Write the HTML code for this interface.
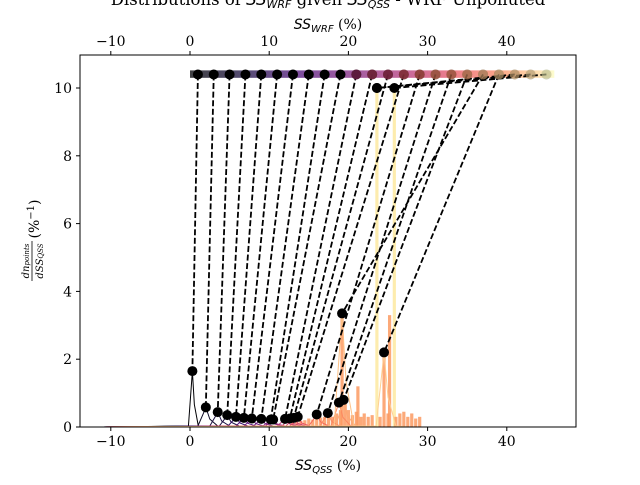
<!DOCTYPE html>
<html><head><meta charset="utf-8"><style>
body{margin:0;background:#fff}
svg text{font-family:"DejaVu Serif","Liberation Serif",serif;fill:#000}
</style></head><body>
<svg id="chart" width="640" height="480" viewBox="0 0 640 480" xmlns="http://www.w3.org/2000/svg">
<text x="328" y="5" font-size="16.5" text-anchor="middle">Distributions of <tspan font-style="italic" font-family="DejaVu Sans">SS</tspan><tspan font-style="italic" font-family="DejaVu Sans" font-size="11" dy="3">WRF</tspan><tspan dy="-3"> given </tspan><tspan font-style="italic" font-family="DejaVu Sans">SS</tspan><tspan font-style="italic" font-family="DejaVu Sans" font-size="11" dy="3">QSS</tspan><tspan dy="-3"> - WRF Unpolluted</tspan></text>
<text x="328" y="29" font-size="14" text-anchor="middle"><tspan font-style="italic" font-family="DejaVu Sans">SS</tspan><tspan font-style="italic" font-family="DejaVu Sans" font-size="10" dy="3">WRF</tspan><tspan dy="-3"> (%)</tspan></text>
<text x="328" y="470" font-size="14" text-anchor="middle"><tspan font-style="italic" font-family="DejaVu Sans">SS</tspan><tspan font-style="italic" font-family="DejaVu Sans" font-size="10" dy="3">QSS</tspan><tspan dy="-3"> (%)</tspan></text>
<g transform="translate(35,241) rotate(-90)">
<text x="-20" y="-6" font-size="10" text-anchor="middle" font-style="italic" font-family="DejaVu Sans">dn<tspan font-size="7">points</tspan></text>
<line x1="-40" y1="-3" x2="0" y2="-3" stroke="#000" stroke-width="0.8"/>
<text x="-20" y="8" font-size="10" text-anchor="middle" font-style="italic" font-family="DejaVu Sans">dSS<tspan font-size="7">QSS</tspan></text>
<text x="22" y="4" font-size="14" text-anchor="middle">(%<tspan font-size="10" dy="-5">−1</tspan><tspan dy="5">)</tspan></text>
</g>
<defs><linearGradient id="magma" x1="0" x2="1" y1="0" y2="0">
<stop offset="0" stop-color="#000004"/><stop offset="0.15" stop-color="#1c1044"/><stop offset="0.3" stop-color="#51127c"/><stop offset="0.45" stop-color="#832681"/><stop offset="0.6" stop-color="#b73779"/><stop offset="0.72" stop-color="#e75263"/><stop offset="0.85" stop-color="#fc8961"/><stop offset="0.95" stop-color="#fecf92"/><stop offset="1" stop-color="#fcfdbf"/></linearGradient>
<clipPath id="plotclip"><rect x="80" y="55" width="496" height="372"/></clipPath></defs>
<g id="plot" clip-path="url(#plotclip)"></g>
<g id="axes"></g>
</svg>
<script>
const binsWRF=[1,3,5,7,9,11,13,15,17,19,21,23,25,27,29,31,33,35,37,39,41,43,45];
const modeQSS=[0.3,2.0,3.5,4.7,5.8,6.8,7.8,9.0,10.2,10.5,12.0,12.6,13.1,13.6,16.0,17.4,18.8,19.4,19.2,24.5,23.6,23.6,25.8];
const modeDens=[1.65,0.58,0.44,0.35,0.3,0.27,0.25,0.24,0.22,0.22,0.24,0.25,0.27,0.3,0.37,0.41,0.72,0.8,3.35,2.2,10.0,10.0,10.0];
const barX=[13,13.5,14,14.5,15,15.5,16,16.5,17,17.5,18,18.5,19,19.2,19.6,20,20.5,21,21.2,21.6,22,22.5,23,23.6,24,24.5,25,25.2,25.8,26,26.5,27,27.5,28,28.5,29];
const barY=[0.12,0.15,0.18,0.2,0.25,0.22,0.3,0.28,0.3,0.35,0.3,0.4,0.5,3.3,0.7,0.5,0.35,0.45,1.2,0.3,0.4,0.3,0.35,10,0.3,2.2,0.4,3.3,10,0.3,0.4,0.45,0.3,0.4,0.25,0.3];
const xTicks=[-10,0,10,20,30,40];
const yTicks=[0,2,4,6,8,10];
const NS="http://www.w3.org/2000/svg";
const X=v=>190+v*7.92, Y=v=>427-v*33.9;
const magma=["#000004","#0b0924","#1c1044","#341067","#51127c","#6a1c81","#832681","#9c2e7f","#b73779","#d1426f","#e75263","#f4695c","#fc8961","#fea772","#fec287","#fecf92","#fde0a6","#fcfdbf"];
const col=i=>magma[Math.round(i/(binsWRF.length-1)*(magma.length-1))];
function el(t,a,p){const e=document.createElementNS(NS,t);for(const k in a)e.setAttribute(k,a[k]);p.appendChild(e);return e;}
const plot=document.getElementById('plot'), axes=document.getElementById('axes');
barX.forEach((x,i)=>{const b=el('rect',{x:X(x)-1.6,y:Y(barY[i]),width:3.2,height:427-Y(barY[i]),fill:barY[i]>5?'#fde9a0':'#fc9a62',opacity:0.85},plot);

});
modeQSS.forEach((q,i)=>{if(modeDens[i]>5)return;
const w=i===0?0.5:1.0;
const d=`M${X(-11)},427 L${X(q-w)},426 L${X(q-w*0.3)},${Y(modeDens[i]*0.7)} L${X(q)},${Y(modeDens[i])} L${X(q+w*0.5)},${Y(modeDens[i]*0.4)} L${X(q+w*1.5)},426 L${X(q+3)},427`;
const p=el('path',{d,fill:'none',stroke:col(i),'stroke-width':1},plot);

});
const s=el('rect',{x:X(0),y:Y(10.52),width:X(46)-X(0),height:Y(10.3)-Y(10.52),fill:'url(#magma)',opacity:0.75},plot);


binsWRF.forEach((w,i)=>{const l=el('line',{x1:X(w),y1:Y(10.4),x2:X(modeQSS[i]),y2:Y(modeDens[i]),stroke:'#000','stroke-width':1.8,'stroke-dasharray':'6,2.6'},plot);

});
binsWRF.forEach((w,i)=>{const t=i/(binsWRF.length-1);
const c=el('circle',{cx:X(w),cy:Y(10.4),r:5,fill:'#000',opacity:t<0.45?1:1-(t-0.45)*1.2},plot);


if(t>=0.45){const c2=el('circle',{cx:X(w),cy:Y(10.4),r:5,fill:col(i),opacity:0.5},plot);

}});
modeQSS.forEach((q,i)=>{const c=el('circle',{cx:X(q),cy:Y(modeDens[i]),r:5,fill:'#000'},plot);

});
const f=el('rect',{x:80,y:55,width:496,height:372,fill:'none',stroke:'#000','stroke-width':1},axes);


xTicks.forEach(v=>{const x=X(v);
el('line',{x1:x,y1:427,x2:x,y2:431,stroke:'#000'},axes);
el('line',{x1:x,y1:55,x2:x,y2:51,stroke:'#000'},axes);
const lab=v<0?'−'+(-v):String(v);
const t=el('text',{x:x,y:446,'font-size':14,'text-anchor':'middle'},axes);t.textContent=lab;


const t2=el('text',{x:x,y:46,'font-size':14,'text-anchor':'middle'},axes);t2.textContent=lab;

});
yTicks.forEach(v=>{const y=Y(v);
el('line',{x1:80,y1:y,x2:76,y2:y,stroke:'#000'},axes);
const t=el('text',{x:72,y:y+5,'font-size':14,'text-anchor':'end'},axes);t.textContent=v;

});
</script>
</body></html>
